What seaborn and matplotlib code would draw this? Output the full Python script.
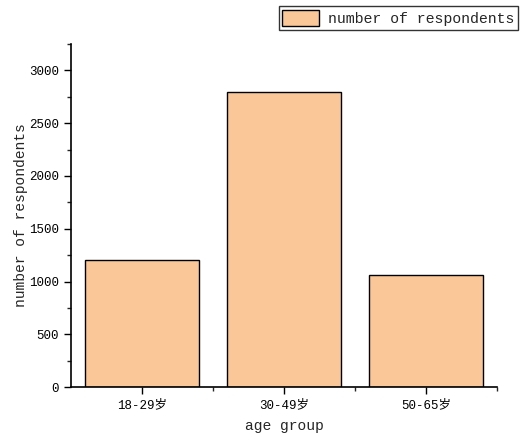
import pandas as pd
import seaborn as sns
import matplotlib
matplotlib.use("Agg")
import matplotlib.pyplot as plt
from matplotlib.ticker import MultipleLocator, FixedLocator

# Daten
age_groups = ["18-29岁", "30-49岁", "50-65岁"]
respondents = [1200, 2800, 1060]
legend_label = "number of respondents"

df = pd.DataFrame({"age group": age_groups, "number of respondents": respondents})

sns.set_style("ticks")
plt.rcParams['font.family'] = ['Liberation Mono', 'Noto Sans CJK SC']

fig = plt.figure(figsize=(5.2, 4.41), dpi=100)
ax = fig.add_axes([0.1365, 0.1224, 0.8195, 0.7776])

sns.barplot(data=df, x="age group", y="number of respondents", ax=ax,
            color="#FAC898", saturation=1, edgecolor="black", linewidth=1, width=0.8)

ax.set_xlim(-0.5, 2.5)
ax.set_ylim(0, 3250)
ax.yaxis.set_major_locator(MultipleLocator(500))
ax.yaxis.set_minor_locator(MultipleLocator(250))
ax.xaxis.set_minor_locator(FixedLocator([0.5, 1.5, 2.5]))

ax.tick_params(axis="both", which="major", direction="out", length=5, width=1,
               labelsize=9, colors="black")
ax.tick_params(axis="both", which="minor", direction="out", length=3, width=1)

sns.despine(ax=ax)
for s in ["left", "bottom"]:
    ax.spines[s].set_linewidth(1.2)
    ax.spines[s].set_color("black")

ax.set_xlabel("age group", fontsize=10.5, labelpad=6)
ax.set_ylabel("number of respondents", fontsize=10.5, labelpad=1)

leg = ax.legend([ax.patches[0]], [legend_label], loc="upper right",
                bbox_to_anchor=(0.997, 0.986), bbox_transform=fig.transFigure,
                fontsize=10.7, frameon=True, fancybox=False, borderaxespad=0,
                handlelength=2.5, handleheight=1.3, borderpad=0.25, handletextpad=0.6)
leg.get_frame().set_edgecolor("black")
leg.get_frame().set_linewidth(1)

fig.savefig("out.png", dpi=100)
